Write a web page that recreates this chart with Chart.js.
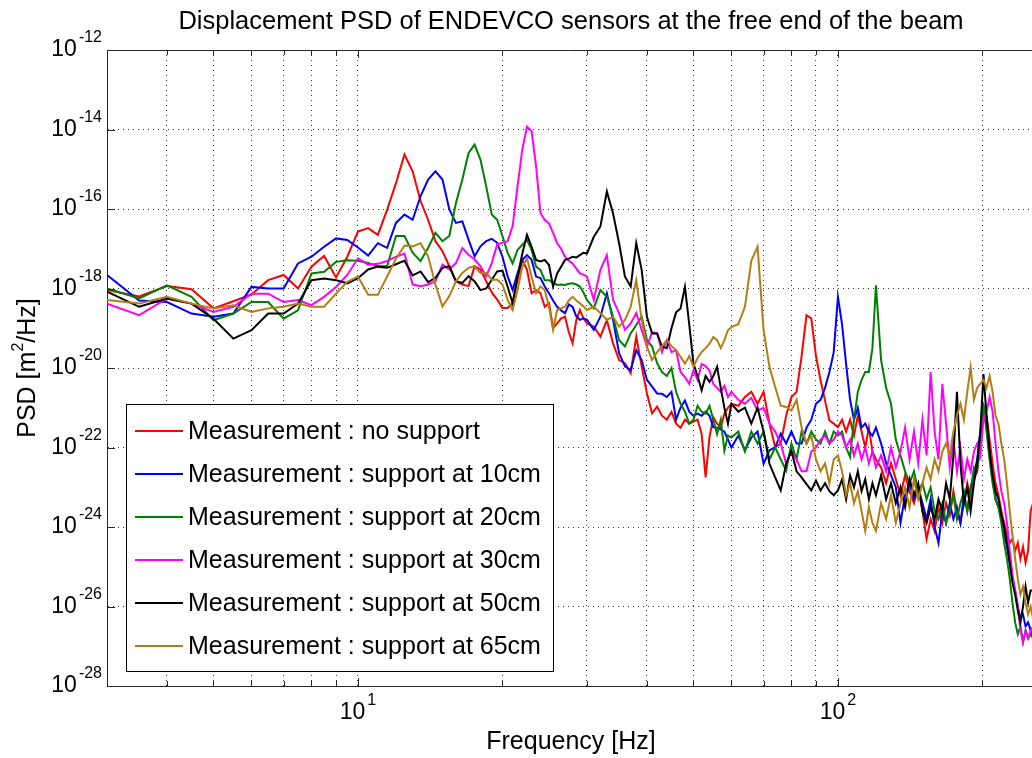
<!DOCTYPE html>
<html>
<head>
<meta charset="utf-8">
<style>
html,body{margin:0;padding:0;background:#fff;overflow:hidden}
canvas{display:block}
</style>
<script src="https://cdn.jsdelivr.net/npm/chart.js@4"></script>
</head>
<body>
<canvas id="c" width="1032" height="758"></canvas>
<script>
// Frequencies (Hz)
const frequencies = [
  3,3.5,4,4.5,5, 5.5,6,6.5,7,7.5, 8,8.5,9,9.5,10, 10.5,11,11.5,12,12.5, 13,13.5,14,14.5,15,
  15.5,16,16.5,17,17.5, 18,18.5,19,19.5,20, 20.5,21,21.5,22,22.5, 23,23.5,24,24.5,25,
  25.5,26,26.5,27,27.5, 28,28.5,29,29.5,30,
  31,32,33,34,35, 36,37,38,39,40, 41,42,43,44,45, 46,47,48,49,50, 51,52,53,54,55, 56,57,58,59,60,
  62,64,66,68,70, 72,74,76,78,80, 82,84,86,88,90, 92,94,96,98,100, 102,104,106,108,110, 112,114,116,118,120,
  123,126,129,132,135, 138,141,144,147,150, 153,156,159,162,165, 168,171,174,177,180,
  183,186,189,192,195, 198,201,204,207,210, 213,216,219,222,225, 228,231,234,237,240,
  243,246,249,252,255
];

// log10 of PSD [m^2/Hz], one value per frequency
const noSupportLog = [
  -18.04,-18.20,-17.94,-18.02,-18.50, -18.32,-18.15,-17.79,-17.66,-18.00,
  -17.45,-17.18,-17.72,-17.20,-16.57, -16.48,-16.65,-16.02,-15.35,-14.63,
  -15.05,-15.80,-16.27,-16.81,-17.06, -17.44,-17.82,-17.90,-17.94,-17.44,
  -17.52,-17.82,-18.10,-18.28,-18.49, -18.49,-18.37,-17.79,-17.28,-17.53,
  -18.12,-18.04,-18.12,-18.46,-18.37, -19.00,-18.88,-18.75,-18.71,-19.10,
  -19.38,-18.80,-18.54,-18.75,-18.88,
  -18.96,-19.21,-18.80,-19.38,-19.80, -19.88,-20.13,-19.21,-19.96,-20.64,
  -21.14,-20.97,-21.20,-21.30,-21.10, -21.40,-21.50,-21.30,-21.40,-21.35,
  -21.30,-21.66,-22.75,-21.74,-21.24, -21.40,-21.49,-21.15,-21.00,-20.90,
  -20.95,-20.73,-20.60,-20.90,-20.60, -21.40,-21.99,-21.90,-21.20,-20.73,
  -20.60,-19.70,-18.67,-18.75,-19.70, -20.31,-20.82,-21.32,-21.40,-21.49,
  -21.30,-21.60,-21.30,-21.70,-21.20, -21.60,-22.00,-21.50,-22.10,-22.30,
  -22.50,-22.90,-22.40,-22.80,-23.20, -22.70,-23.10,-23.40,-23.00,-23.60,
  -24.30,-23.80,-24.10,-23.50,-23.90, -23.40,-23.70,-23.10,-23.60,-23.90,
  -23.40,-22.90,-23.30,-22.80,-22.60, -21.90,-21.00,-21.20,-21.80,-22.40,
  -22.90,-23.20,-23.60,-23.90,-24.20, -24.40,-24.30,-24.60,-24.40,-24.80,
  -24.50,-24.90,-24.60,-23.60,-23.40
];
const support10Log = [
  -17.66,-18.30,-18.34,-18.63,-18.71, -18.63,-17.96,-18.00,-18.00,-17.37,
  -17.20,-16.95,-16.74,-16.78,-16.97, -17.17,-16.86,-16.98,-16.35,-16.14,
  -16.27,-15.68,-15.26,-15.05,-15.26, -16.01,-16.35,-16.31,-16.77,-17.19,
  -16.94,-16.81,-16.75,-16.85,-17.20, -17.69,-18.04,-17.62,-17.28,-17.16,
  -17.28,-17.70,-17.74,-17.95,-18.12, -18.30,-18.46,-18.55,-18.62,-18.40,
  -18.46,-18.70,-18.79,-18.75,-18.79,
  -19.04,-18.71,-18.12,-18.79,-19.63, -19.96,-20.05,-19.55,-19.80,-20.30,
  -20.47,-20.64,-20.65,-20.73,-20.60, -21.30,-21.00,-20.82,-21.10,-21.20,
  -21.15,-21.20,-21.10,-21.20,-21.49, -21.50,-21.55,-21.60,-21.80,-22.00,
  -21.70,-22.07,-21.75,-21.60,-22.41, -22.07,-22.00,-21.65,-21.90,-21.60,
  -21.90,-21.90,-21.50,-21.30,-20.90, -20.80,-20.50,-20.10,-19.60,-18.21,
  -18.90,-19.90,-20.80,-21.30,-21.00, -21.50,-21.40,-21.60,-21.70,-21.50,
  -21.90,-22.40,-22.70,-23.00,-23.90, -23.20,-22.90,-23.30,-23.00,-23.40,
  -23.80,-23.30,-24.00,-24.40,-23.60, -23.90,-23.40,-23.80,-23.50,-23.90,
  -23.20,-23.60,-23.00,-22.70,-22.30, -21.60,-21.00,-21.50,-22.20,-22.80,
  -23.30,-23.50,-23.80,-24.20,-24.50, -24.90,-25.30,-25.60,-26.00,-26.30,
  -26.20,-26.50,-26.40,-26.60,-26.80
];
const support20Log = [
  -18.00,-18.25,-17.92,-18.21,-18.80, -18.63,-18.34,-18.34,-18.76,-18.55,
  -17.62,-17.58,-17.33,-17.29,-17.30, -17.36,-17.44,-17.44,-16.68,-16.68,
  -17.10,-17.31,-16.98,-16.60,-16.81, -16.68,-15.85,-15.26,-14.59,-14.38,
  -14.76,-15.43,-16.14,-16.27,-16.68, -17.10,-17.37,-17.03,-16.90,-16.78,
  -17.03,-17.45,-17.53,-17.79,-17.79, -17.85,-17.91,-17.90,-17.91,-17.88,
  -17.87,-17.90,-17.95,-18.10,-18.29,
  -18.50,-18.04,-18.20,-18.71,-19.30, -19.46,-19.13,-18.92,-18.71,-19.30,
  -19.46,-19.88,-20.10,-20.20,-20.00, -20.60,-20.90,-21.10,-21.40,-21.30,
  -20.95,-21.10,-21.15,-20.95,-21.30, -21.66,-21.30,-22.08,-21.70,-21.75,
  -21.60,-22.10,-21.60,-21.90,-21.60, -22.30,-22.00,-22.30,-22.58,-21.90,
  -22.30,-21.60,-21.90,-21.60,-21.80, -21.90,-21.60,-21.90,-21.60,-21.70,
  -21.60,-22.00,-22.24,-21.30,-20.60, -20.30,-20.10,-20.10,-19.50,-17.92,
  -19.80,-20.50,-20.90,-21.80,-22.20, -22.60,-22.90,-22.60,-23.10,-22.90,
  -23.30,-23.00,-23.60,-23.80,-23.40, -23.90,-23.60,-23.20,-23.80,-23.40,
  -23.10,-23.60,-23.10,-22.50,-22.60, -21.80,-20.90,-21.60,-22.30,-22.90,
  -23.30,-23.50,-23.90,-24.40,-24.80, -25.30,-25.90,-26.40,-26.70,-26.50,
  -26.90,-26.60,-26.80,-26.70,-26.80
];
const support30Log = [
  -18.38,-18.67,-18.25,-18.38,-18.59, -18.46,-18.13,-18.13,-18.34,-18.29,
  -18.42,-18.21,-17.96,-17.66,-17.24, -17.40,-17.38,-17.31,-17.20,-17.12,
  -17.90,-17.94,-17.90,-17.82,-17.40, -17.52,-17.36,-16.98,-17.15,-17.27,
  -17.44,-17.69,-17.36,-16.89,-16.85, -16.81,-16.43,-15.43,-14.50,-13.93,
  -14.04,-14.92,-16.10,-16.28,-16.36, -16.60,-16.86,-17.00,-17.20,-17.30,
  -17.37,-17.50,-17.62,-17.65,-17.70,
  -18.29,-17.53,-17.16,-18.29,-18.62, -19.04,-18.88,-18.62,-19.04,-19.46,
  -19.10,-19.13,-19.60,-19.30,-19.60, -19.55,-20.10,-20.23,-20.40,-20.06,
  -20.30,-19.90,-19.95,-20.06,-20.40, -20.50,-20.60,-20.45,-20.73,-20.60,
  -20.80,-20.90,-20.75,-21.07,-21.00, -21.40,-21.60,-21.90,-22.41,-22.10,
  -22.30,-22.60,-22.60,-22.10,-22.00, -21.80,-21.70,-21.90,-21.80,-21.60,
  -21.70,-22.00,-21.80,-22.20,-21.90, -22.30,-22.00,-22.40,-22.10,-22.50,
  -22.20,-22.60,-22.00,-22.50,-22.10, -21.50,-22.30,-21.60,-22.40,-21.30,
  -22.20,-20.10,-21.60,-22.30,-20.40, -21.40,-22.50,-21.80,-22.60,-22.00,
  -22.80,-22.30,-22.60,-22.10,-21.90, -22.20,-21.30,-21.10,-20.73,-21.10,
  -21.90,-22.60,-23.10,-23.40,-23.90, -24.60,-25.20,-25.60,-26.00,-26.60,
  -26.90,-26.60,-26.80,-26.60,-26.50
];
const support50Log = [
  -18.08,-18.46,-18.25,-18.38,-18.76, -19.26,-19.05,-18.63,-18.63,-18.38,
  -17.79,-17.75,-17.79,-17.87,-17.74, -17.52,-17.45,-17.48,-17.39,-17.30,
  -17.67,-17.57,-17.84,-17.73,-17.48, -17.44,-17.82,-17.86,-17.69,-17.82,
  -18.04,-18.00,-17.78,-17.57,-17.55, -17.95,-18.37,-17.70,-17.12,-16.65,
  -16.95,-17.28,-17.32,-17.28,-17.41, -17.95,-17.62,-17.45,-17.28,-17.25,
  -17.20,-17.22,-17.16,-17.10,-17.12,
  -16.70,-16.44,-15.56,-16.11,-16.86, -17.70,-17.95,-16.86,-17.53,-18.71,
  -19.13,-19.13,-19.46,-19.50,-19.00, -18.60,-18.50,-17.96,-18.90,-19.89,
  -20.20,-20.56,-20.20,-20.35,-20.20, -19.97,-20.50,-21.00,-21.40,-20.90,
  -21.10,-21.00,-21.40,-21.00,-21.60, -22.41,-22.75,-23.08,-22.41,-22.08,
  -22.60,-22.75,-22.92,-23.08,-22.83, -23.08,-22.90,-23.10,-23.20,-23.08,
  -22.80,-23.30,-22.70,-23.00,-22.60, -23.10,-22.80,-23.30,-22.90,-23.20,
  -22.70,-23.30,-22.90,-23.40,-23.00, -23.50,-22.80,-23.20,-22.90,-23.60,
  -23.90,-23.50,-23.80,-23.30,-23.60, -22.90,-23.30,-22.20,-20.60,-22.40,
  -23.40,-23.00,-23.60,-22.90,-22.40, -21.60,-20.15,-21.20,-22.10,-22.70,
  -23.10,-23.30,-23.70,-24.00,-24.40, -24.90,-25.40,-25.70,-26.10,-26.40,
  -26.00,-25.50,-25.90,-25.60,-25.60
];
const support65Log = [
  -18.29,-18.38,-18.21,-18.38,-18.50, -18.42,-18.59,-18.50,-18.46,-18.38,
  -18.46,-18.46,-18.13,-17.83,-17.70, -18.16,-18.16,-17.70,-17.25,-16.92,
  -16.94,-16.86,-17.19,-17.90,-18.45, -18.19,-17.82,-17.61,-17.48,-17.44,
  -17.61,-17.61,-17.78,-17.78,-17.90, -18.28,-18.54,-18.04,-17.45,-17.24,
  -17.70,-18.12,-17.95,-18.04,-18.46, -19.04,-18.54,-18.50,-18.46,-18.30,
  -18.21,-18.30,-18.37,-18.45,-18.54,
  -18.46,-18.62,-18.79,-18.71,-18.96, -18.79,-18.46,-17.79,-18.79,-19.46,
  -19.80,-19.60,-19.45,-19.30,-19.45, -19.55,-19.72,-19.89,-19.70,-19.97,
  -19.75,-19.60,-19.50,-19.39,-19.22, -19.30,-19.50,-19.30,-19.05,-18.97,
  -18.90,-18.46,-17.30,-16.95,-19.05, -19.97,-20.48,-20.95,-20.98,-21.07,
  -20.80,-21.50,-21.90,-21.70,-22.30, -22.60,-22.40,-22.90,-22.30,-22.20,
  -22.60,-23.20,-22.90,-23.40,-23.10, -23.60,-24.10,-23.50,-23.90,-24.10,
  -23.40,-23.80,-23.20,-23.90,-23.40, -23.00,-23.50,-22.80,-23.30,-22.90,
  -22.50,-22.80,-22.30,-22.60,-22.10, -21.90,-22.20,-21.60,-21.20,-20.90,
  -21.30,-20.60,-19.98,-20.80,-20.50, -20.40,-20.30,-20.50,-20.20,-20.60,
  -21.20,-21.40,-21.90,-22.30,-22.90, -23.60,-24.20,-24.80,-25.30,-25.70,
  -25.50,-25.90,-26.20,-26.00,-26.30
];

const seriesLabels = [
  'Measurement : no support',
  'Measurement : support at 10cm',
  'Measurement : support at 20cm',
  'Measurement : support at 30cm',
  'Measurement : support at 50cm',
  'Measurement : support at 65cm'
];
const seriesLog = [noSupportLog, support10Log, support20Log, support30Log, support50Log, support65Log];
const seriesColors = ['#ff0000', '#0000ff', '#008000', '#ff00ff', '#000000', '#b47d12'];

const xGridTicks = [4,5,6,7,8,9,10,20,30,40,50,60,70,80,90,100,200];
const xLabelTicks = [10, 100];
const yLabelExponents = [-12,-14,-16,-18,-20,-22,-24,-26,-28];

const chartTitle = 'Displacement PSD of ENDEVCO sensors at the free end of the beam';
const xTitle = 'Frequency [Hz]';
const yTitleParts = ['PSD [m', '2', '/Hz]'];

const FONT = "'Liberation Sans', Arial, Helvetica, sans-serif";
const AXIS_COLOR = '#262626';

function drawPower(ctx, base, exp, x, y, align) {
  ctx.font = '23px ' + FONT;
  const wb = ctx.measureText(base).width;
  ctx.font = '16px ' + FONT;
  const we = ctx.measureText(exp).width;
  const total = wb + 2 + we;
  const left = align === 'right' ? x - total : x - total / 2;
  ctx.textAlign = 'left';
  ctx.textBaseline = 'middle';
  ctx.font = '23px ' + FONT;
  ctx.fillText(base, left, y);
  ctx.font = '16px ' + FONT;
  ctx.fillText(exp, left + wb + 2, y - 12);
}

const decorations = {
  id: 'decorations',
  afterDraw(chart) {
    const ctx = chart.ctx;
    const a = chart.chartArea;
    const xs = chart.scales.x, ys = chart.scales.y;
    ctx.save();
    // top border
    ctx.strokeStyle = AXIS_COLOR;
    ctx.lineWidth = 1;
    ctx.beginPath();
    ctx.moveTo(a.left, a.top + 0.5);
    ctx.lineTo(a.right, a.top + 0.5);
    ctx.stroke();
    // inward tick marks
    xGridTicks.forEach(f => {
      const px = Math.round(xs.getPixelForValue(f)) + 0.5;
      const len = xLabelTicks.includes(f) ? 8 : 5;
      ctx.beginPath();
      ctx.moveTo(px, a.bottom); ctx.lineTo(px, a.bottom - len);
      ctx.moveTo(px, a.top); ctx.lineTo(px, a.top + len);
      ctx.stroke();
    });
    yLabelExponents.forEach(e => {
      const py = Math.round(ys.getPixelForValue(Math.pow(10, e))) + 0.5;
      ctx.beginPath();
      ctx.moveTo(a.left, py); ctx.lineTo(a.left + 8, py);
      ctx.stroke();
    });
    // tick labels
    ctx.fillStyle = '#000';
    xLabelTicks.forEach(f => {
      drawPower(ctx, '10', String(Math.round(Math.log10(f))), xs.getPixelForValue(f), a.bottom + 27, 'center');
    });
    yLabelExponents.forEach(e => {
      drawPower(ctx, '10', String(e), a.left - 5, ys.getPixelForValue(Math.pow(10, e)), 'right');
    });
    // titles
    const cx = 571;
    ctx.textAlign = 'center';
    ctx.textBaseline = 'middle';
    ctx.font = '25.5px ' + FONT;
    ctx.fillText(chartTitle, cx, 22);
    ctx.font = '25px ' + FONT;
    ctx.fillText(xTitle, cx, 742);
    // y title rotated
    ctx.save();
    ctx.translate(28, 368);
    ctx.rotate(-Math.PI / 2);
    ctx.font = '25px ' + FONT;
    const w1 = ctx.measureText(yTitleParts[0]).width;
    const w3 = ctx.measureText(yTitleParts[2]).width;
    ctx.font = '16px ' + FONT;
    const w2 = ctx.measureText(yTitleParts[1]).width;
    let sx = -(w1 + w2 + w3) / 2;
    ctx.textAlign = 'left';
    ctx.font = '25px ' + FONT;
    ctx.fillText(yTitleParts[0], sx, 0);
    ctx.font = '16px ' + FONT;
    ctx.fillText(yTitleParts[1], sx + w1, -9);
    ctx.font = '25px ' + FONT;
    ctx.fillText(yTitleParts[2], sx + w1 + w2, 0);
    ctx.restore();
    // legend
    const lx = 126, ly = 404, lw = 427, lh = 267;
    ctx.fillStyle = '#fff';
    ctx.fillRect(lx, ly, lw, lh);
    ctx.strokeStyle = '#000';
    ctx.lineWidth = 1;
    ctx.strokeRect(lx + 0.5, ly + 0.5, lw, lh);
    chart.data.datasets.forEach((ds, i) => {
      const yy = 431 + i * 43;
      ctx.strokeStyle = ds.borderColor;
      ctx.lineWidth = 2;
      ctx.beginPath();
      ctx.moveTo(135, yy); ctx.lineTo(183, yy);
      ctx.stroke();
      ctx.fillStyle = '#000';
      ctx.font = '25px ' + FONT;
      ctx.textAlign = 'left';
      ctx.textBaseline = 'middle';
      ctx.fillText(ds.label, 188, yy + 1);
    });
    ctx.restore();
  }
};

const datasets = seriesLog.map((vals, i) => ({
  label: seriesLabels[i],
  data: frequencies.map((f, k) => ({ x: f, y: Math.pow(10, vals[k]) })),
  borderColor: seriesColors[i],
  backgroundColor: seriesColors[i],
  borderWidth: 2,
  pointRadius: 0,
  tension: 0,
  fill: false,
  order: seriesLog.length - i
}));

new Chart(document.getElementById('c'), {
  type: 'line',
  data: { datasets },
  options: {
    responsive: false,
    animation: false,
    devicePixelRatio: 1,
    layout: { padding: { left: 107, top: 50, right: 0, bottom: 72 } },
    plugins: { legend: { display: false }, title: { display: false }, tooltip: { enabled: false } },
    scales: {
      x: {
        type: 'logarithmic',
        min: 3,
        max: 253.7,
        afterBuildTicks(scale) { scale.ticks = xGridTicks.map(v => ({ value: v })); },
        ticks: { display: false },
        grid: { color: 'rgba(0,0,0,0.8)', lineWidth: 1, drawTicks: false },
        border: { display: true, color: AXIS_COLOR, width: 1, dash: [1, 4] }
      },
      y: {
        type: 'logarithmic',
        min: 1e-28,
        max: 1e-12,
        afterBuildTicks(scale) { scale.ticks = yLabelExponents.slice(1, -1).map(e => ({ value: Math.pow(10, e) })); },
        ticks: { display: false },
        grid: { color: 'rgba(0,0,0,0.8)', lineWidth: 1, drawTicks: false },
        border: { display: true, color: AXIS_COLOR, width: 1, dash: [1, 4] }
      }
    }
  },
  plugins: [decorations]
});
</script>
</body>
</html>
